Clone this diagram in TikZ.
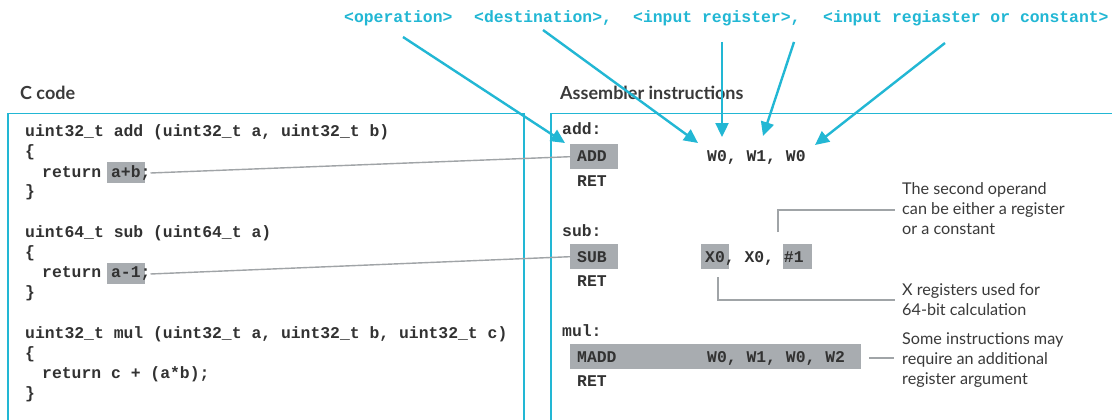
\documentclass[tikz,border=0pt]{standalone}
\usepackage{fontspec}
\setmainfont{Lato}
\newfontfamily\codefont{Liberation Mono}
\usetikzlibrary{arrows.meta}
\definecolor{cyanc}{RGB}{34,183,212}
\definecolor{darkc}{RGB}{58,58,58}
\definecolor{codec}{RGB}{50,50,50}
\definecolor{hlgrey}{RGB}{168,172,176}
\definecolor{lgrey}{RGB}{160,164,167}
\tikzset{
  mono/.style={font=\codefont\bfseries\fontsize{16.4}{20}\selectfont, text=codec, inner sep=0pt, anchor=base west},
  toplab/.style={font=\codefont\bfseries\fontsize{16.4}{20}\selectfont, text=cyanc, inner sep=0pt, anchor=west},
  hlbox/.style={fill=hlgrey, draw=none, inner sep=0pt},
  carrow/.style={draw=cyanc, line width=2.4pt, -{Triangle[length=14pt,width=13pt]}},
  gline/.style={draw=lgrey, line width=1.4pt},
  frame/.style={draw=cyanc, line width=1.8pt},
  title/.style={font=\fontsize{18}{20}\selectfont\bfseries, text=darkc, anchor=west, inner sep=0pt},
  note/.style={font=\fontsize{16.2}{20}\selectfont, text=darkc, anchor=west, align=left, inner sep=0pt},
}
\begin{document}
\begin{tikzpicture}[x=1pt,y=-1pt]
\useasboundingbox[fill=white] (0,0) rectangle (1112,420);

% frames
\draw[frame] (8,422) -- (8,113.5) -- (524,113.5) -- (524,422);
\draw[frame] (551,422) -- (551,113.5) -- (1114,113.5);

% titles
\node[title] (tc) at (20,93) {C code};
\node[title] (ta) at (560,93) {Assembler instructions};

% top labels
\node[toplab] (op) at (344,18) {<operation>};
\node[toplab] (dst) at (474,18) {<destination>,};
\node[toplab] (inr) at (633,18) {<input register>,};
\node[toplab] (inc) at (823,18) {<input regiaster or constant>};

% highlight boxes in C code
\node[hlbox, minimum width=38pt, minimum height=21pt] (hab) at (126,172.5) {};
\node[hlbox, minimum width=38pt, minimum height=21pt] (ham) at (126,273) {};

% C code
\node[mono] (l1) at (25,136) {uint32\_t add (uint32\_t a, uint32\_t b)};
\node[mono] (l2) at (25,157) {\{};
\node[mono] (l3) at (42,177) {return a+b;};
\node[mono] (l4) at (25,196) {\}};
\node[mono] (l5) at (25,237) {uint64\_t sub (uint64\_t a)};
\node[mono] (l6) at (25,257) {\{};
\node[mono] (l7) at (42,277) {return a-1;};
\node[mono] (l8) at (25,297) {\}};
\node[mono] (l9) at (25,338) {uint32\_t mul (uint32\_t a, uint32\_t b, uint32\_t c)};
\node[mono] (l10) at (25,358) {\{};
\node[mono] (l11) at (42,378) {return c + (a*b);};
\node[mono] (l12) at (25,398) {\}};

% assembler boxes
\node[hlbox, anchor=north west, minimum width=48pt, minimum height=25pt] (addbox) at (570,144) {};
\node[hlbox, anchor=north west, minimum width=48pt, minimum height=25pt] (subbox) at (570,244) {};
\node[hlbox, anchor=north west, minimum width=291pt, minimum height=25pt] (maddbox) at (570,344) {};
\node[hlbox, anchor=north west, minimum width=28pt, minimum height=25pt] (x0box) at (701,244) {};
\node[hlbox, anchor=north west, minimum width=29pt, minimum height=25pt] (hbox) at (783,244) {};

% assembler text
\node[mono] (addl) at (562,135) {add:};
\node[mono] (addi) at (577,161.5) {ADD};
\node[mono] (addo) at (707,161.5) {W0, W1, W0};
\node[mono] (ret1) at (577,186) {RET};
\node[mono] (subl) at (562,236) {sub:};
\node[mono] (subi) at (577,262) {SUB};
\node[mono] (subo) at (705,262) {X0, X0, \#1};
\node[mono] (ret2) at (577,286) {RET};
\node[mono] (mull) at (562,336) {mul:};
\node[mono] (madi) at (577,362) {MADD};
\node[mono] (mado) at (707,362) {W0, W1, W0, W2};
\node[mono] (ret3) at (577,386) {RET};

% grey connectors from C code to instructions
\coordinate (c1) at (150.5,173);
\coordinate (c2) at (150.5,274);
\draw[gline] (c1) -- (addbox.west);
\draw[gline] (c2) -- (subbox.west);

% annotations
\node[note] (n1) at (902,209) {The second operand\\can be either a register\\or a constant};
\node[note] (n2) at (902,299.5) {X registers used for\\64-bit calculation};
\node[note] (n3) at (902,360) {Some instructions may\\require an additional\\register argument};

\coordinate (b1s) at (778,232);
\coordinate (b1e) at (895,210);
\draw[gline] (b1s) |- (b1e);
\coordinate (b2s) at (718,277);
\coordinate (b2e) at (895,300);
\draw[gline] (b2s) |- (b2e);
\coordinate (b3s) at (869,358);
\coordinate (b3e) at (894,358);
\draw[gline] (b3s) -- (b3e);

% cyan arrows
\coordinate (s1) at (403,37);  \coordinate (t1) at (565,143);
\coordinate (s2) at (543,30);  \coordinate (t2) at (698,143);
\coordinate (s3) at (722,42);  \coordinate (t3) at (722,137);
\coordinate (s4) at (794,42);  \coordinate (t4) at (763,136);
\coordinate (s5) at (945,43);  \coordinate (t5) at (815,145);
\draw[carrow] (s1) -- (t1);
\draw[carrow] (s2) -- (t2);
\draw[carrow] (s3) -- (t3);
\draw[carrow] (s4) -- (t4);
\draw[carrow] (s5) -- (t5);
\end{tikzpicture}
\end{document}
